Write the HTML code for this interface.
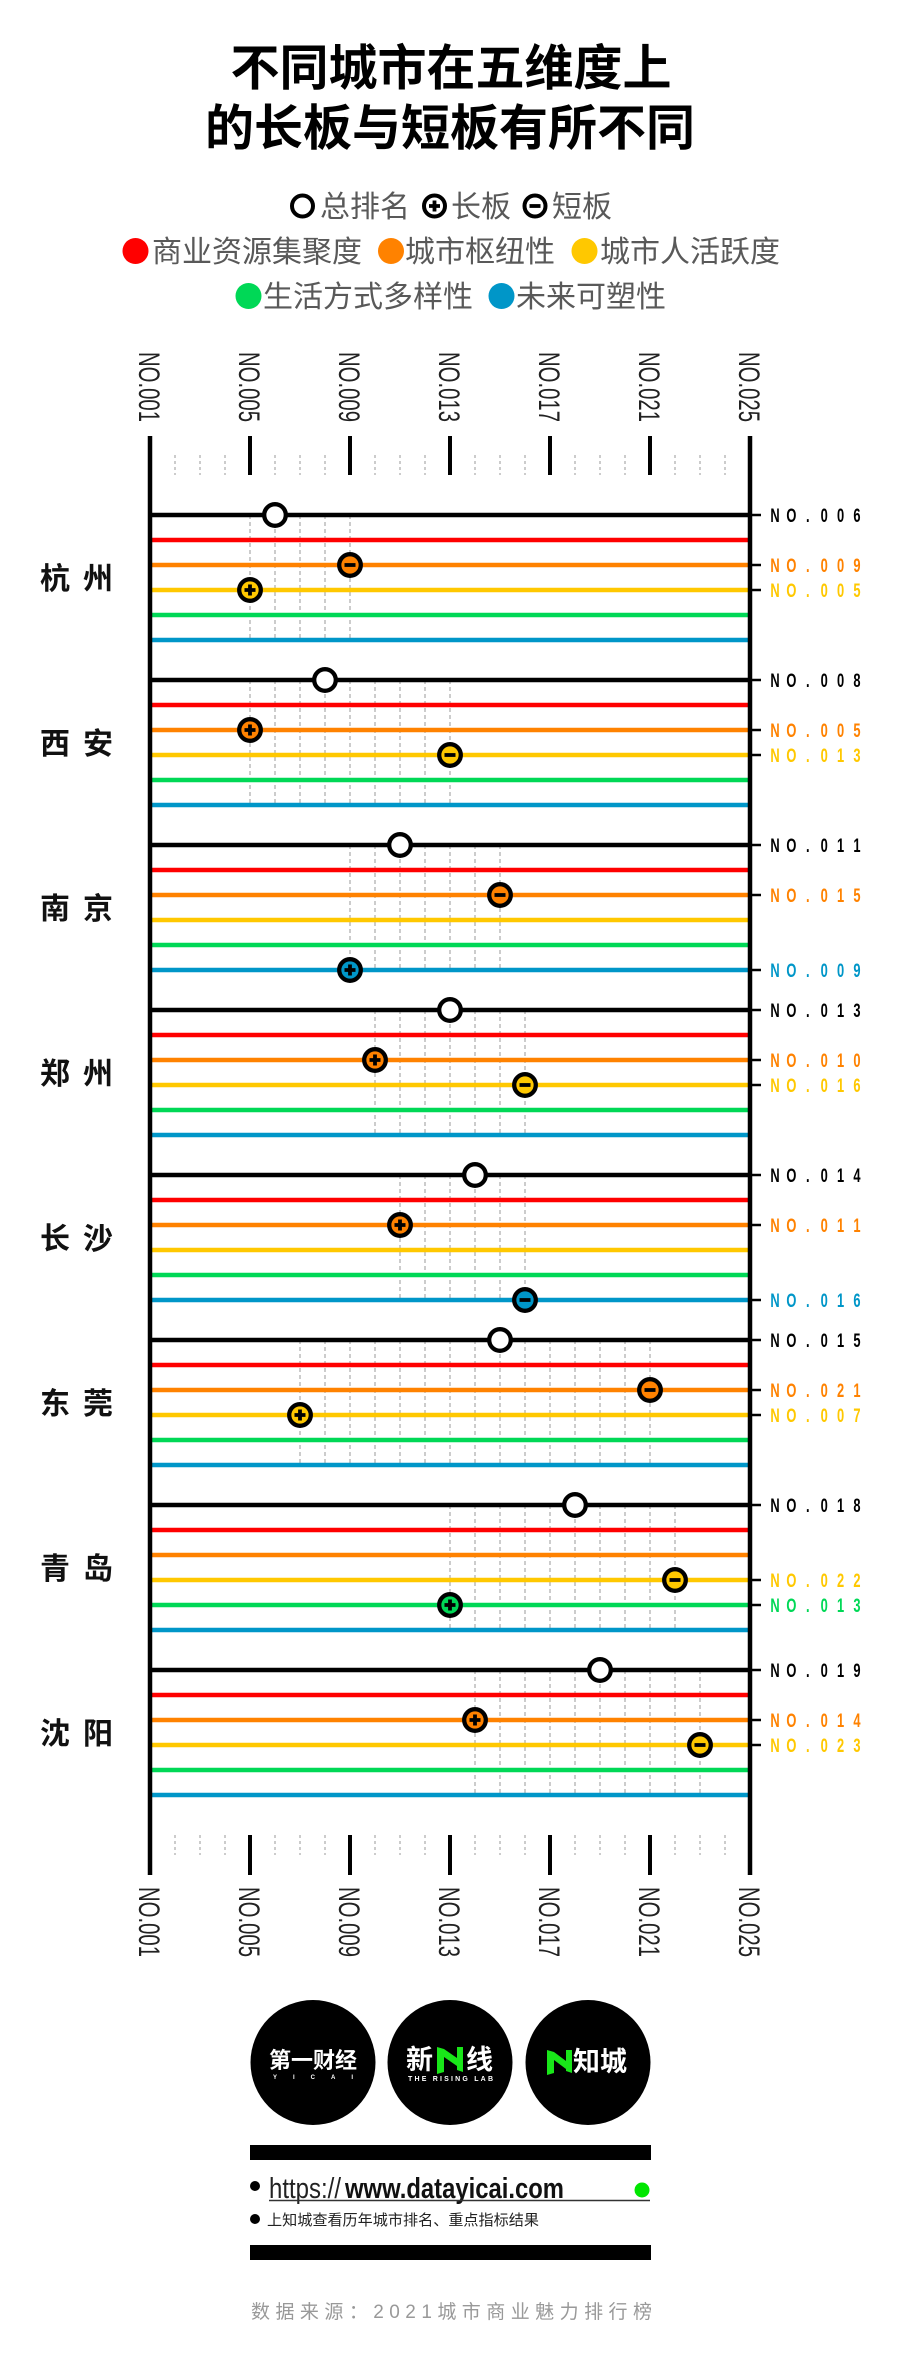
<!DOCTYPE html>
<html>
<head>
<meta charset="utf-8">
<style>
html,body{margin:0;padding:0;background:#fff;}
svg{display:block;}
text{font-family:"Liberation Sans","Noto Sans CJK SC",sans-serif;}
.ax{font-size:30px;fill:#222;}
.rl{font-size:19.5px;font-weight:bold;}
.city{font-size:30px;font-weight:bold;fill:#111;}
.lg{font-size:30px;fill:#595959;}
</style>
</head>
<body>
<svg width="900" height="2360" viewBox="0 0 900 2360">
<defs>
<path id="plus" d="M-5.5 0H5.5M0 -5.5V5.5" stroke="#000" stroke-width="3.8" fill="none"/>
<path id="minus" d="M-5.5 0H5.5" stroke="#000" stroke-width="3.8" fill="none"/>
</defs>
<rect width="900" height="2360" fill="#fff"/>

<!-- Title -->
<text x="451" y="85" text-anchor="middle" font-size="49" font-weight="bold" fill="#000">不同城市在五维度上</text>
<text x="450" y="145" text-anchor="middle" font-size="49" font-weight="bold" fill="#000">的长板与短板有所不同</text>

<!-- Legend row 1 -->
<circle cx="302.5" cy="206" r="10.5" fill="#fff" stroke="#000" stroke-width="4"/>
<text class="lg" x="320" y="217">总排名</text>
<circle cx="434.5" cy="206" r="10.5" fill="#fff" stroke="#000" stroke-width="4"/>
<use href="#plus" x="434.5" y="206"/>
<text class="lg" x="451" y="217">长板</text>
<circle cx="535" cy="206" r="10.5" fill="#fff" stroke="#000" stroke-width="4"/>
<use href="#minus" x="535" y="206"/>
<text class="lg" x="552" y="217">短板</text>

<!-- Legend row 2 -->
<circle cx="135.5" cy="251" r="13" fill="#ff0000"/>
<text class="lg" x="152" y="262">商业资源集聚度</text>
<circle cx="391" cy="251" r="13" fill="#ff8200"/>
<text class="lg" x="405" y="262">城市枢纽性</text>
<circle cx="584.5" cy="251" r="13" fill="#ffc800"/>
<text class="lg" x="600" y="262">城市人活跃度</text>

<!-- Legend row 3 -->
<circle cx="248.5" cy="296" r="13" fill="#00d856"/>
<text class="lg" x="263" y="307">生活方式多样性</text>
<circle cx="501.5" cy="296" r="13" fill="#0096c8"/>
<text class="lg" x="516" y="307">未来可塑性</text>

<!-- Top axis labels -->
<text class="ax" transform="translate(139.2 352) rotate(90)" textLength="70" lengthAdjust="spacingAndGlyphs">NO.001</text>
<text class="ax" transform="translate(239.2 352) rotate(90)" textLength="70" lengthAdjust="spacingAndGlyphs">NO.005</text>
<text class="ax" transform="translate(339.2 352) rotate(90)" textLength="70" lengthAdjust="spacingAndGlyphs">NO.009</text>
<text class="ax" transform="translate(439.2 352) rotate(90)" textLength="70" lengthAdjust="spacingAndGlyphs">NO.013</text>
<text class="ax" transform="translate(539.2 352) rotate(90)" textLength="70" lengthAdjust="spacingAndGlyphs">NO.017</text>
<text class="ax" transform="translate(639.2 352) rotate(90)" textLength="70" lengthAdjust="spacingAndGlyphs">NO.021</text>
<text class="ax" transform="translate(739.2 352) rotate(90)" textLength="70" lengthAdjust="spacingAndGlyphs">NO.025</text>

<!-- Bottom axis labels -->
<text class="ax" transform="translate(139.2 1887) rotate(90)" textLength="70" lengthAdjust="spacingAndGlyphs">NO.001</text>
<text class="ax" transform="translate(239.2 1887) rotate(90)" textLength="70" lengthAdjust="spacingAndGlyphs">NO.005</text>
<text class="ax" transform="translate(339.2 1887) rotate(90)" textLength="70" lengthAdjust="spacingAndGlyphs">NO.009</text>
<text class="ax" transform="translate(439.2 1887) rotate(90)" textLength="70" lengthAdjust="spacingAndGlyphs">NO.013</text>
<text class="ax" transform="translate(539.2 1887) rotate(90)" textLength="70" lengthAdjust="spacingAndGlyphs">NO.017</text>
<text class="ax" transform="translate(639.2 1887) rotate(90)" textLength="70" lengthAdjust="spacingAndGlyphs">NO.021</text>
<text class="ax" transform="translate(739.2 1887) rotate(90)" textLength="70" lengthAdjust="spacingAndGlyphs">NO.025</text>

<!-- Minor ticks -->
<path d="M175 455V475M200 455V475M225 455V475M275 455V475M300 455V475M325 455V475M375 455V475M400 455V475M425 455V475M475 455V475M500 455V475M525 455V475M575 455V475M600 455V475M625 455V475M675 455V475M700 455V475M725 455V475" stroke="#aaa" stroke-width="1.2" stroke-dasharray="3 3" fill="none"/>
<path d="M175 1835V1855M200 1835V1855M225 1835V1855M275 1835V1855M300 1835V1855M325 1835V1855M375 1835V1855M400 1835V1855M425 1835V1855M475 1835V1855M500 1835V1855M525 1835V1855M575 1835V1855M600 1835V1855M625 1835V1855M675 1835V1855M700 1835V1855M725 1835V1855" stroke="#aaa" stroke-width="1.2" stroke-dasharray="3 3" fill="none"/>

<!-- Major ticks -->
<path d="M250 436V475M350 436V475M450 436V475M550 436V475M650 436V475M250 1835V1875M350 1835V1875M450 1835V1875M550 1835V1875M650 1835V1875" stroke="#000" stroke-width="4" fill="none"/>

<!-- Block dashed verticals -->
<g stroke="#9a9a9a" stroke-width="1" stroke-dasharray="4 3" fill="none">
<path d="M250 515V640M275 515V640M300 515V640M325 515V640M350 515V640"/>
<path d="M250 680V805M275 680V805M300 680V805M325 680V805M350 680V805M375 680V805M400 680V805M425 680V805M450 680V805"/>
<path d="M350 845V970M375 845V970M400 845V970M425 845V970M450 845V970M475 845V970M500 845V970"/>
<path d="M375 1010V1135M400 1010V1135M425 1010V1135M450 1010V1135M475 1010V1135M500 1010V1135M525 1010V1135"/>
<path d="M400 1175V1300M425 1175V1300M450 1175V1300M475 1175V1300M500 1175V1300M525 1175V1300"/>
<path d="M300 1340V1465M325 1340V1465M350 1340V1465M375 1340V1465M400 1340V1465M425 1340V1465M450 1340V1465M475 1340V1465M500 1340V1465M525 1340V1465M550 1340V1465M575 1340V1465M600 1340V1465M625 1340V1465M650 1340V1465"/>
<path d="M450 1505V1630M475 1505V1630M500 1505V1630M525 1505V1630M550 1505V1630M575 1505V1630M600 1505V1630M625 1505V1630M650 1505V1630M675 1505V1630"/>
<path d="M475 1670V1795M500 1670V1795M525 1670V1795M550 1670V1795M575 1670V1795M600 1670V1795M625 1670V1795M650 1670V1795M675 1670V1795M700 1670V1795"/>
</g>

<!-- Horizontal lines -->
<path d="M150 515H750M150 680H750M150 845H750M150 1010H750M150 1175H750M150 1340H750M150 1505H750M150 1670H750" stroke="#000" stroke-width="4.5" fill="none"/>
<path d="M150 540H750M150 705H750M150 870H750M150 1035H750M150 1200H750M150 1365H750M150 1530H750M150 1695H750" stroke="#ff0000" stroke-width="4.5" fill="none"/>
<path d="M150 565H750M150 730H750M150 895H750M150 1060H750M150 1225H750M150 1390H750M150 1555H750M150 1720H750" stroke="#ff8200" stroke-width="4.5" fill="none"/>
<path d="M150 590H750M150 755H750M150 920H750M150 1085H750M150 1250H750M150 1415H750M150 1580H750M150 1745H750" stroke="#ffc800" stroke-width="4.5" fill="none"/>
<path d="M150 615H750M150 780H750M150 945H750M150 1110H750M150 1275H750M150 1440H750M150 1605H750M150 1770H750" stroke="#00d856" stroke-width="4.5" fill="none"/>
<path d="M150 640H750M150 805H750M150 970H750M150 1135H750M150 1300H750M150 1465H750M150 1630H750M150 1795H750" stroke="#0096c8" stroke-width="4.5" fill="none"/>

<!-- Axes -->
<path d="M150 436V1875M750 436V1875" stroke="#000" stroke-width="4.5" fill="none"/>

<!-- Right ticks -->
<path d="M750 515H761M750 565H761M750 590H761M750 680H761M750 730H761M750 755H761M750 845H761M750 895H761M750 970H761M750 1010H761M750 1060H761M750 1085H761M750 1175H761M750 1225H761M750 1300H761M750 1340H761M750 1390H761M750 1415H761M750 1505H761M750 1580H761M750 1605H761M750 1670H761M750 1720H761M750 1745H761" stroke="#000" stroke-width="2.5" fill="none"/>

<!-- City labels -->
<text class="city" x="40 83" y="589">杭州</text>
<text class="city" x="40 83" y="754">西安</text>
<text class="city" x="40 83" y="919">南京</text>
<text class="city" x="40 83" y="1084">郑州</text>
<text class="city" x="40 83" y="1249">长沙</text>
<text class="city" x="40 83" y="1414">东莞</text>
<text class="city" x="40 83" y="1579">青岛</text>
<text class="city" x="40 83" y="1744">沈阳</text>

<!-- Markers -->
<g stroke="#000" stroke-width="4.3">
<circle cx="275" cy="515" r="10.8" fill="#fff"/>
<circle cx="350" cy="565" r="10.8" fill="#ff8200"/>
<circle cx="250" cy="590" r="10.8" fill="#ffc800"/>

<circle cx="325" cy="680" r="10.8" fill="#fff"/>
<circle cx="250" cy="730" r="10.8" fill="#ff8200"/>
<circle cx="450" cy="755" r="10.8" fill="#ffc800"/>

<circle cx="400" cy="845" r="10.8" fill="#fff"/>
<circle cx="500" cy="895" r="10.8" fill="#ff8200"/>
<circle cx="350" cy="970" r="10.8" fill="#0096c8"/>

<circle cx="450" cy="1010" r="10.8" fill="#fff"/>
<circle cx="375" cy="1060" r="10.8" fill="#ff8200"/>
<circle cx="525" cy="1085" r="10.8" fill="#ffc800"/>

<circle cx="475" cy="1175" r="10.8" fill="#fff"/>
<circle cx="400" cy="1225" r="10.8" fill="#ff8200"/>
<circle cx="525" cy="1300" r="10.8" fill="#0096c8"/>

<circle cx="500" cy="1340" r="10.8" fill="#fff"/>
<circle cx="650" cy="1390" r="10.8" fill="#ff8200"/>
<circle cx="300" cy="1415" r="10.8" fill="#ffc800"/>

<circle cx="575" cy="1505" r="10.8" fill="#fff"/>
<circle cx="675" cy="1580" r="10.8" fill="#ffc800"/>
<circle cx="450" cy="1605" r="10.8" fill="#00d856"/>

<circle cx="600" cy="1670" r="10.8" fill="#fff"/>
<circle cx="475" cy="1720" r="10.8" fill="#ff8200"/>
<circle cx="700" cy="1745" r="10.8" fill="#ffc800"/>
</g>
<use href="#minus" x="350" y="565"/>
<use href="#plus" x="250" y="590"/>
<use href="#plus" x="250" y="730"/>
<use href="#minus" x="450" y="755"/>
<use href="#minus" x="500" y="895"/>
<use href="#plus" x="350" y="970"/>
<use href="#plus" x="375" y="1060"/>
<use href="#minus" x="525" y="1085"/>
<use href="#plus" x="400" y="1225"/>
<use href="#minus" x="525" y="1300"/>
<use href="#minus" x="650" y="1390"/>
<use href="#plus" x="300" y="1415"/>
<use href="#minus" x="675" y="1580"/>
<use href="#plus" x="450" y="1605"/>
<use href="#plus" x="475" y="1720"/>
<use href="#minus" x="700" y="1745"/>

<!-- Right labels -->
<g text-anchor="middle">
<text class="rl" fill="#000" transform="translate(775 522) scale(0.66 1)" x="0 24.85 49.7 74.55 99.4 124.25" y="0">NO.006</text>
<text class="rl" fill="#ff8200" transform="translate(775 572) scale(0.66 1)" x="0 24.85 49.7 74.55 99.4 124.25" y="0">NO.009</text>
<text class="rl" fill="#ffc800" transform="translate(775 597) scale(0.66 1)" x="0 24.85 49.7 74.55 99.4 124.25" y="0">NO.005</text>

<text class="rl" fill="#000" transform="translate(775 687) scale(0.66 1)" x="0 24.85 49.7 74.55 99.4 124.25" y="0">NO.008</text>
<text class="rl" fill="#ff8200" transform="translate(775 737) scale(0.66 1)" x="0 24.85 49.7 74.55 99.4 124.25" y="0">NO.005</text>
<text class="rl" fill="#ffc800" transform="translate(775 762) scale(0.66 1)" x="0 24.85 49.7 74.55 99.4 124.25" y="0">NO.013</text>

<text class="rl" fill="#000" transform="translate(775 852) scale(0.66 1)" x="0 24.85 49.7 74.55 99.4 124.25" y="0">NO.011</text>
<text class="rl" fill="#ff8200" transform="translate(775 902) scale(0.66 1)" x="0 24.85 49.7 74.55 99.4 124.25" y="0">NO.015</text>
<text class="rl" fill="#0096c8" transform="translate(775 977) scale(0.66 1)" x="0 24.85 49.7 74.55 99.4 124.25" y="0">NO.009</text>

<text class="rl" fill="#000" transform="translate(775 1017) scale(0.66 1)" x="0 24.85 49.7 74.55 99.4 124.25" y="0">NO.013</text>
<text class="rl" fill="#ff8200" transform="translate(775 1067) scale(0.66 1)" x="0 24.85 49.7 74.55 99.4 124.25" y="0">NO.010</text>
<text class="rl" fill="#ffc800" transform="translate(775 1092) scale(0.66 1)" x="0 24.85 49.7 74.55 99.4 124.25" y="0">NO.016</text>

<text class="rl" fill="#000" transform="translate(775 1182) scale(0.66 1)" x="0 24.85 49.7 74.55 99.4 124.25" y="0">NO.014</text>
<text class="rl" fill="#ff8200" transform="translate(775 1232) scale(0.66 1)" x="0 24.85 49.7 74.55 99.4 124.25" y="0">NO.011</text>
<text class="rl" fill="#0096c8" transform="translate(775 1307) scale(0.66 1)" x="0 24.85 49.7 74.55 99.4 124.25" y="0">NO.016</text>

<text class="rl" fill="#000" transform="translate(775 1347) scale(0.66 1)" x="0 24.85 49.7 74.55 99.4 124.25" y="0">NO.015</text>
<text class="rl" fill="#ff8200" transform="translate(775 1397) scale(0.66 1)" x="0 24.85 49.7 74.55 99.4 124.25" y="0">NO.021</text>
<text class="rl" fill="#ffc800" transform="translate(775 1422) scale(0.66 1)" x="0 24.85 49.7 74.55 99.4 124.25" y="0">NO.007</text>

<text class="rl" fill="#000" transform="translate(775 1512) scale(0.66 1)" x="0 24.85 49.7 74.55 99.4 124.25" y="0">NO.018</text>
<text class="rl" fill="#ffc800" transform="translate(775 1587) scale(0.66 1)" x="0 24.85 49.7 74.55 99.4 124.25" y="0">NO.022</text>
<text class="rl" fill="#00d856" transform="translate(775 1612) scale(0.66 1)" x="0 24.85 49.7 74.55 99.4 124.25" y="0">NO.013</text>

<text class="rl" fill="#000" transform="translate(775 1677) scale(0.66 1)" x="0 24.85 49.7 74.55 99.4 124.25" y="0">NO.019</text>
<text class="rl" fill="#ff8200" transform="translate(775 1727) scale(0.66 1)" x="0 24.85 49.7 74.55 99.4 124.25" y="0">NO.014</text>
<text class="rl" fill="#ffc800" transform="translate(775 1752) scale(0.66 1)" x="0 24.85 49.7 74.55 99.4 124.25" y="0">NO.023</text>
</g>

<!-- Logos -->
<circle cx="313" cy="2062.5" r="62.5" fill="#000"/>
<circle cx="450" cy="2062.5" r="62.5" fill="#000"/>
<circle cx="588" cy="2062.5" r="62.5" fill="#000"/>

<text x="313" y="2068" text-anchor="middle" font-size="22" font-weight="bold" fill="#fff">第一财经</text>
<text x="313" y="2079" text-anchor="middle" font-size="6" font-weight="bold" fill="#fff" textLength="80" lengthAdjust="spacing">YICAI</text>

<text x="406" y="2069" font-size="27" font-weight="bold" fill="#fff">新</text>
<polygon points="437,2047 444,2049 444,2072 437,2074" fill="#19e619"/>
<polygon points="444,2049 457,2058 457,2066 444,2057" fill="#19e619"/>
<polygon points="457,2047 463,2047 463,2072 457,2070" fill="#19e619"/>
<text x="466" y="2069" font-size="27" font-weight="bold" fill="#fff">线</text>
<text x="408" y="2081" font-size="7" font-weight="bold" fill="#fff" textLength="85" lengthAdjust="spacing">THE RISING LAB</text>

<polygon points="547,2050 554,2052 554,2073 547,2075" fill="#19e619"/>
<polygon points="554,2052 566,2061 566,2069 554,2060" fill="#19e619"/>
<polygon points="566,2050 572,2050 572,2073 566,2071" fill="#19e619"/>
<text x="573" y="2071" font-size="27" font-weight="bold" fill="#fff">知城</text>

<!-- Footer -->
<rect x="250" y="2145" width="401" height="15" fill="#000"/>
<circle cx="255" cy="2186" r="5" fill="#000"/>
<text x="269" y="2198" font-size="29" fill="#222" textLength="72" lengthAdjust="spacingAndGlyphs">https://</text>
<text x="345" y="2198" font-size="29" font-weight="bold" fill="#111" textLength="219" lengthAdjust="spacingAndGlyphs">www.datayicai.com</text>
<line x1="269" y1="2200.5" x2="650" y2="2200.5" stroke="#333" stroke-width="1.5"/>
<circle cx="642" cy="2190" r="7.5" fill="#00e600"/>
<circle cx="255" cy="2219" r="5" fill="#000"/>
<text x="267" y="2225" font-size="15" fill="#222" textLength="272" lengthAdjust="spacingAndGlyphs">上知城查看历年城市排名、重点指标结果</text>
<rect x="250" y="2245" width="401" height="15" fill="#000"/>

<text x="251" y="2318" font-size="19" fill="#999" textLength="401" lengthAdjust="spacing">数据来源：2021城市商业魅力排行榜</text>
</svg>
</body>
</html>
